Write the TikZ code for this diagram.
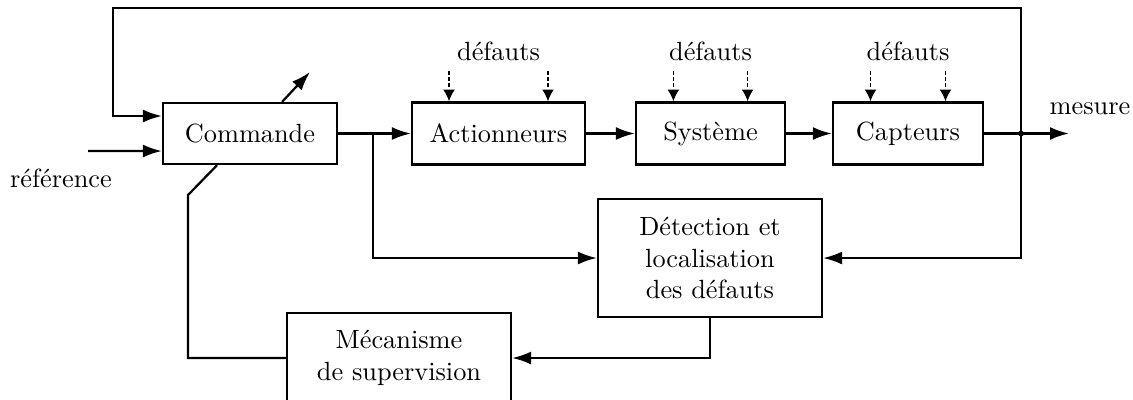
\documentclass[tikz,border=0pt]{standalone}
\usetikzlibrary{arrows.meta}
\begin{document}
\begin{tikzpicture}[x=0.38pt,y=-0.38pt,
	bloc/.style={draw,line width=0.85pt,inner sep=0pt,align=center},
	fleche/.style={-{Latex[length=7.2pt,width=4.9pt]},line width=0.85pt},
	defaut/.style={-{Latex[length=4.5pt,width=4.6pt]},line width=0.65pt,dash pattern=on 1.4pt off 0.9pt}]
	\useasboundingbox (0,0) rectangle (1133,399);
	\clip (0,0) rectangle (1133,399);
	\node[bloc,minimum width=66.1pt,minimum height=23.2pt] (cmd) at (250,133.5) {Commande};
	\node[bloc,minimum width=65.7pt,minimum height=23.6pt] (act) at (498.5,133.5) {Actionneurs};
	\node[bloc,minimum width=56.6pt,minimum height=23.6pt] (sys) at (710.5,133.5) {Système};
	\node[bloc,minimum width=57pt,minimum height=23.6pt] (cap) at (908,133.5) {Capteurs};
	\node[bloc,minimum width=85.1pt,minimum height=44.8pt] (det) at (710,258) {Détection et\\localisation\\des défauts};
	\node[bloc,minimum width=85.1pt,minimum height=34pt] (mec) at (399,358) {Mécanisme\\de supervision};
	\coordinate (j) at (1021,133.5);
	\coordinate (fb) at (113,8);
	\coordinate (ref) at (88,151);
	\coordinate (mes) at (1069,133.5);
	\coordinate (br) at (373,133.5);
	\coordinate (adj) at (310,72);
	\coordinate (coude) at (188,195);
	\node (lref) at (61,178) {référence};
	\node (lmes) at (1090,109) {mesure};
	\draw[fleche] (cmd) -- (act);
	\draw[fleche] (act) -- (sys);
	\draw[fleche] (sys) -- (cap);
	\draw[fleche] (cap) -- (mes);
	\fill (j) circle (1.1pt);
	\draw[fleche] (j) |- (fb) |- ([yshift=6.65pt]cmd.west);
	\draw[fleche] (ref) -- ([yshift=-6.65pt]cmd.west);
	\draw[fleche] (br) |- (det.west);
	\draw[fleche] (j) |- (det.east);
	\draw[fleche] (det.south) |- (mec.east);
	\draw[line width=0.85pt] (mec.west) -| (coude) -- ([xshift=-12.5pt]cmd.south);
	\draw[fleche] ([xshift=12.2pt]cmd.north) -- (adj);
	\foreach \b/\d in {act/18.8pt,sys/14.1pt,cap/14.25pt} {
		\draw[defaut] ([xshift=-\d,yshift=11.4pt]\b.north) -- ([xshift=-\d]\b.north);
		\draw[defaut] ([xshift=\d,yshift=11.4pt]\b.north) -- ([xshift=\d]\b.north);
		\node (\b def) at ([yshift=19pt]\b.north) {défauts};
	}
\end{tikzpicture}
\end{document}
